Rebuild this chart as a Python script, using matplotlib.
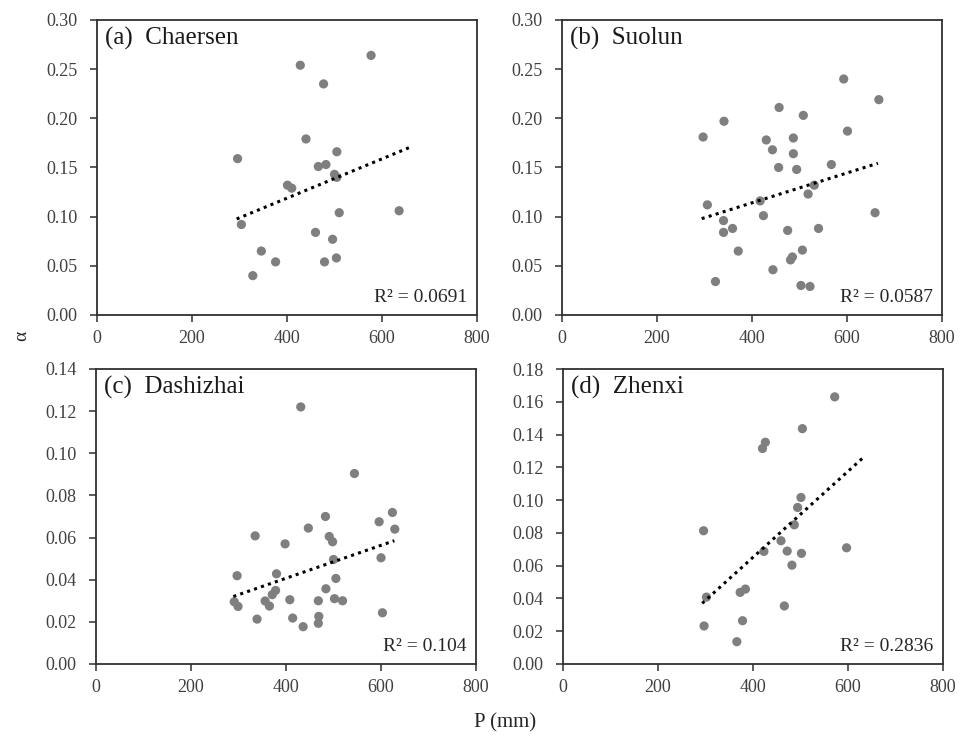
import matplotlib
matplotlib.use("Agg")
import matplotlib.pyplot as plt
import numpy as np

plt.rcParams["font.family"] = ["Liberation Serif", "DejaVu Serif"]

# (a) Chaersen
p_a = [577, 428, 477, 440, 505, 296, 466, 482, 500, 505, 401, 410,
       510, 636, 304, 460, 496, 346, 376, 479, 504, 328]
alpha_a = [0.264, 0.254, 0.235, 0.179, 0.166, 0.159, 0.151, 0.153, 0.143, 0.140,
           0.132, 0.129, 0.104, 0.106, 0.092, 0.084, 0.077, 0.065, 0.054, 0.054,
           0.058, 0.040]

# (b) Suolun
p_b = [593, 667, 457, 508, 341, 601, 297, 487, 430, 443, 487, 456, 494, 567,
       531, 518, 417, 306, 424, 659, 340, 359, 340, 475, 540, 371, 506, 485,
       481, 444, 323, 503, 522]
alpha_b = [0.240, 0.219, 0.211, 0.203, 0.197, 0.187, 0.181, 0.180, 0.178, 0.168,
           0.164, 0.150, 0.148, 0.153, 0.132, 0.123, 0.116, 0.112, 0.101, 0.104,
           0.096, 0.088, 0.084, 0.086, 0.088, 0.065, 0.066, 0.059, 0.056, 0.046,
           0.034, 0.030, 0.029]

# (c) Dashizhai
p_c = [431, 544, 624, 483, 596, 629, 447, 491, 498, 335, 398, 500, 600, 380,
       297, 505, 484, 378, 371, 291, 299, 356, 365, 408, 468, 502, 519, 603,
       339, 414, 469, 468, 436]
alpha_c = [0.122, 0.0904, 0.0719, 0.070, 0.0675, 0.064, 0.0645, 0.0605, 0.058,
           0.0608, 0.057, 0.0496, 0.0504, 0.0428, 0.0419, 0.0406, 0.0357, 0.0349,
           0.0329, 0.0295, 0.0273, 0.0299, 0.0275, 0.0305, 0.0300, 0.0310, 0.0300,
           0.0243, 0.0213, 0.0218, 0.0226, 0.0193, 0.0177]

# (d) Zhenxi
p_d = [572, 504, 426, 420, 501, 494, 487, 296, 459, 597, 423, 472, 502, 482,
       384, 373, 302, 466, 378, 297, 366]
alpha_d = [0.163, 0.1436, 0.1353, 0.1315, 0.1016, 0.0955, 0.0849, 0.0813, 0.0752,
           0.0709, 0.0687, 0.0689, 0.0675, 0.0603, 0.0457, 0.0437, 0.0408, 0.0354,
           0.0264, 0.0232, 0.0136]

titles = ["(a)  Chaersen", "(b)  Suolun", "(c)  Dashizhai", "(d)  Zhenxi"]
r2_labels = ["R² = 0.0691", "R² = 0.0587", "R² = 0.104", "R² = 0.2836"]
y_max = [0.30, 0.30, 0.14, 0.18]
y_step = [0.05, 0.05, 0.02, 0.02]
# x extent of the trendlines as drawn
trend_x = [[294, 660], [294, 665], [289, 628], [293, 632]]

panels = [(p_a, alpha_a), (p_b, alpha_b), (p_c, alpha_c), (p_d, alpha_d)]
positions = [
    [0.1005, 0.5732, 0.3938, 0.3997],
    [0.5824, 0.5732, 0.3938, 0.3997],
    [0.0995, 0.1003, 0.3938, 0.3997],
    [0.5834, 0.1003, 0.3938, 0.3997],
]

fig = plt.figure(figsize=(9.65, 7.38), dpi=100)

for i, (p, a) in enumerate(panels):
    ax = fig.add_axes(positions[i])
    ax.scatter(p, a, s=44, color="#7f7f7f", edgecolors="none", zorder=3)

    # linear trendline
    k, b = np.polyfit(p, a, 1)
    xs = np.array(trend_x[i], dtype=float)
    ax.plot(xs, k * xs + b, color="black", lw=2.2,
            linestyle=(0, (1, 1.4)), zorder=4)

    ax.set_xlim(0, 800)
    ax.set_ylim(0, y_max[i])
    ax.set_xticks(np.arange(0, 801, 200))
    ax.set_yticks(np.arange(0, y_max[i] + 1e-9, y_step[i]))
    ax.yaxis.set_major_formatter(plt.FormatStrFormatter("%.2f"))
    ax.tick_params(direction="out", length=5, width=1.2, labelsize=13,
                   colors="#404040", labelcolor="#404040")
    ax.tick_params(axis="y", pad=9)
    ax.tick_params(axis="x", pad=6)
    for s in ax.spines.values():
        s.set_linewidth(1.3)
        s.set_color("#303030")

    ax.text(0.02, 0.975, titles[i], transform=ax.transAxes, fontsize=18,
            ha="left", va="top", color="#1a1a1a")
    ax.text(0.975, 0.03, r2_labels[i], transform=ax.transAxes, fontsize=14,
            ha="right", va="bottom", color="#262626")

fig.text(0.023, 0.545, "α", fontsize=14, rotation=90, ha="center", va="center",
         color="#262626")
fig.text(0.523, 0.02, "P (mm)", fontsize=15, ha="center", va="center",
         color="#262626")

fig.savefig("out.png", dpi=100)
